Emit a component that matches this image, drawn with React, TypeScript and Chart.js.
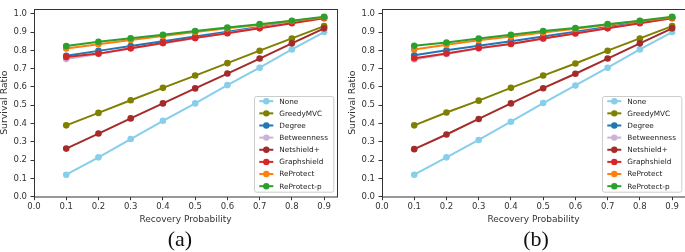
import React, { useEffect, useRef } from "react";
import { Chart, registerables } from "chart.js";

Chart.register(...registerables);

// ---------- data ----------
const recoveryProbability = [0.1, 0.2, 0.3, 0.4, 0.5, 0.6, 0.7, 0.8, 0.9];
const seriesLabels = ["None", "GreedyMVC", "Degree", "Betweenness", "Netshield+", "Graphshield", "ReProtect", "ReProtect-p"];
const seriesColors = ["#87ceeb", "#808000", "#1f77b4", "#cbb3d8", "#a52a2a", "#d62728", "#ff7f0e", "#2ca02c"];

// panel (a)
const noneA = [0.12, 0.215, 0.315, 0.415, 0.51, 0.61, 0.705, 0.805, 0.9];
const greedyA = [0.39, 0.458, 0.527, 0.595, 0.662, 0.73, 0.798, 0.865, 0.932];
const degreeA = [0.77, 0.797, 0.823, 0.849, 0.875, 0.902, 0.928, 0.954, 0.98];
const betweenA = [0.752, 0.78, 0.81, 0.838, 0.866, 0.895, 0.924, 0.952, 0.978];
const netshieldA = [0.263, 0.345, 0.428, 0.51, 0.592, 0.673, 0.755, 0.838, 0.92];
const graphshieldA = [0.763, 0.782, 0.811, 0.84, 0.868, 0.893, 0.92, 0.948, 0.975];
const reprotectA = [0.81, 0.833, 0.857, 0.878, 0.9, 0.92, 0.94, 0.96, 0.98];
const reprotectPA = [0.823, 0.847, 0.866, 0.885, 0.905, 0.925, 0.943, 0.962, 0.983];

// panel (b)
const noneB = [0.12, 0.215, 0.31, 0.41, 0.512, 0.608, 0.705, 0.805, 0.9];
const greedyB = [0.39, 0.46, 0.525, 0.595, 0.662, 0.728, 0.798, 0.865, 0.932];
const degreeB = [0.773, 0.8, 0.825, 0.85, 0.876, 0.902, 0.928, 0.955, 0.98];
const betweenB = [0.75, 0.78, 0.81, 0.836, 0.865, 0.893, 0.922, 0.95, 0.977];
const netshieldB = [0.26, 0.34, 0.425, 0.51, 0.593, 0.672, 0.755, 0.838, 0.92];
const graphshieldB = [0.757, 0.783, 0.812, 0.835, 0.865, 0.892, 0.92, 0.948, 0.975];
const reprotectB = [0.805, 0.83, 0.855, 0.875, 0.898, 0.918, 0.94, 0.96, 0.98];
const reprotectPB = [0.825, 0.843, 0.865, 0.885, 0.905, 0.922, 0.943, 0.962, 0.983];

const panelA = [noneA, greedyA, degreeA, betweenA, netshieldA, graphshieldA, reprotectA, reprotectPA];
const panelB = [noneB, greedyB, degreeB, betweenB, netshieldB, graphshieldB, reprotectB, reprotectPB];

const xAxisTitle = "Recovery Probability";
const yAxisTitle = "Survival Ratio";
const xMin = 0;
const xMax = 0.94;
const yMin = 0;
const yMax = 1.028;
const tickStep = 0.1;

const FONT = "'DejaVu Sans', sans-serif";
const INK = "#333";

const CANVAS_W = 342;
const CANVAS_H = 230;

const framePlugin = {
  id: "frameAndLegend",
  afterDraw(chart: any) {
    const ctx = chart.ctx;
    const a = chart.chartArea;
    ctx.save();
    // frame
    ctx.strokeStyle = INK;
    ctx.lineWidth = 1;
    ctx.strokeRect(Math.round(a.left) + 0.5, Math.round(a.top) + 0.5, Math.round(a.right - a.left), Math.round(a.bottom - a.top) - 0.5);

    // legend
    const bw = 79.3;
    const bh = 95.7;
    const bx = a.right - 3.7 - bw;
    const by = a.bottom - 5 - bh;
    ctx.fillStyle = "rgba(255,255,255,0.85)";
    ctx.strokeStyle = "#cccccc";
    ctx.lineWidth = 1;
    ctx.beginPath();
    (ctx as any).roundRect(bx + 0.5, by + 0.5, bw, bh, 2);
    ctx.fill();
    ctx.stroke();

    ctx.font = `7.3px ${FONT}`;
    ctx.textBaseline = "middle";
    ctx.textAlign = "left";
    chart.data.datasets.forEach((ds: any, i: number) => {
      const cy = by + 5.2 + i * 12.14;
      ctx.strokeStyle = ds.borderColor;
      ctx.lineWidth = 2;
      ctx.beginPath();
      ctx.moveTo(bx + 5.3, cy);
      ctx.lineTo(bx + 19.3, cy);
      ctx.stroke();
      ctx.fillStyle = ds.borderColor;
      ctx.beginPath();
      ctx.arc(bx + 12.3, cy, 3.2, 0, Math.PI * 2);
      ctx.fill();
      ctx.fillStyle = "#222";
      ctx.fillText(ds.label, bx + 25.3, cy + 0.5);
    });
    ctx.restore();
  },
};

function Panel({ series, left }: { series: number[][]; left: number }) {
  const ref = useRef<HTMLCanvasElement | null>(null);
  useEffect(() => {
    if (!ref.current) return;
    const datasets = series.map((vals, i) => ({
      label: seriesLabels[i],
      data: vals.map((v, j) => ({ x: recoveryProbability[j], y: v })),
      borderColor: seriesColors[i],
      backgroundColor: seriesColors[i],
      pointBackgroundColor: seriesColors[i],
      pointBorderWidth: 0,
      pointRadius: 3.3,
      borderWidth: 2,
      fill: false,
      tension: 0,
      order: seriesLabels.length - i,
    }));
    const chart = new Chart(ref.current, {
      type: "line",
      data: { datasets },
      options: {
        responsive: false,
        animation: false,
        devicePixelRatio: 1,
        layout: { padding: { left: 0, right: CANVAS_W - 337, top: 0.5, bottom: 0 } },
        plugins: { legend: { display: false }, tooltip: { enabled: false } },
        scales: {
          x: {
            type: "linear",
            min: xMin,
            max: xMax,
            afterFit: (s: any) => {
              s.height = CANVAS_H - 196.7;
            },
            grid: { drawOnChartArea: false, drawTicks: true, tickLength: 3.5, color: INK },
            border: { display: false },
            ticks: {
              stepSize: tickStep,
              includeBounds: false,
              autoSkip: false,
              maxRotation: 0,
              padding: 1.5,
              color: INK,
              font: { family: FONT, size: 8.5 },
              callback: (v: any) => Number(v).toFixed(1),
            },
            title: {
              display: true,
              text: xAxisTitle,
              color: INK,
              font: { family: FONT, size: 9, lineHeight: 1.2 },
              padding: { top: 0, bottom: 4.6 },
            },
          },
          y: {
            type: "linear",
            min: yMin,
            max: yMax,
            afterFit: (s: any) => {
              s.width = 34;
            },
            grid: { drawOnChartArea: false, drawTicks: true, tickLength: 3.5, color: INK },
            border: { display: false },
            ticks: {
              stepSize: tickStep,
              includeBounds: false,
              autoSkip: false,
              padding: 3.5,
              color: INK,
              font: { family: FONT, size: 8.5 },
              callback: (v: any) => Number(v).toFixed(1),
            },
            title: {
              display: true,
              text: yAxisTitle,
              color: INK,
              font: { family: FONT, size: 9.3, lineHeight: 1 },
              padding: { top: 0, bottom: 0 },
            },
          },
        },
      },
      plugins: [framePlugin],
    } as any);
    return () => chart.destroy();
  }, [series]);
  return (
    <canvas
      ref={ref}
      width={CANVAS_W}
      height={CANVAS_H}
      style={{ position: "absolute", left, top: 0, width: CANVAS_W, height: CANVAS_H }}
    />
  );
}

const captionStyle: React.CSSProperties = {
  position: "absolute",
  top: 228,
  width: 100,
  textAlign: "center",
  fontFamily: "'Liberation Serif', 'Times New Roman', serif",
  fontSize: 22,
  lineHeight: "22px",
  color: "#111",
};

export default function App() {
  return (
    <div
      style={{
        position: "fixed",
        left: 0,
        top: 0,
        width: 685,
        height: 252,
        overflow: "hidden",
        background: "#fff",
      }}
    >
      <Panel series={panelA} left={0} />
      <Panel series={panelB} left={348} />
      <div style={{ ...captionStyle, left: 130 }}>(a)</div>
      <div style={{ ...captionStyle, left: 486 }}>(b)</div>
    </div>
  );
}
